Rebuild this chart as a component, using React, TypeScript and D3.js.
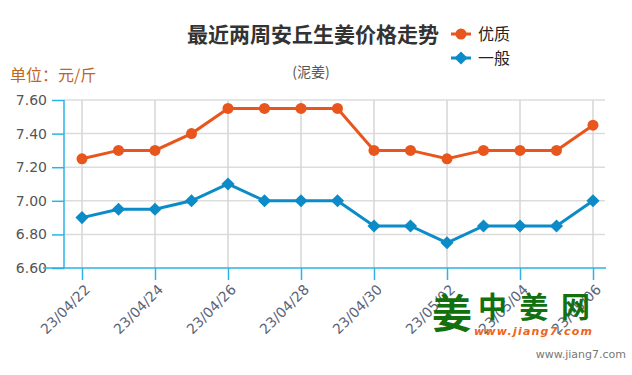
import * as d3 from "d3";
import { useEffect, useRef } from "react";

const dates = [
  "23/04/22", "23/04/23", "23/04/24", "23/04/25", "23/04/26", "23/04/27", "23/04/28",
  "23/04/29", "23/04/30", "23/05/01", "23/05/02", "23/05/03", "23/05/04", "23/05/05", "23/05/06",
];
const premium = [7.25, 7.3, 7.3, 7.4, 7.55, 7.55, 7.55, 7.55, 7.3, 7.3, 7.25, 7.3, 7.3, 7.3, 7.45];
const normal = [6.9, 6.95, 6.95, 7.0, 7.1, 7.0, 7.0, 7.0, 6.85, 6.85, 6.75, 6.85, 6.85, 6.85, 7.0];
const yTicks = [6.6, 6.8, 7.0, 7.2, 7.4, 7.6];
const seriesNames = ["优质", "一般"];

const ORANGE = "#e9561d";
const BLUE = "#0b8bc7";
const AXIS = "#2bb2e6";

export default function App() {
  const svgRef = useRef(null);

  useEffect(() => {
    const w = 632;
    const h = 375;
    const svg = d3.select(svgRef.current).attr("width", w).attr("height", h);
    svg.selectAll("*").remove();

    const x = d3.scalePoint().domain(dates).range([82, 593]);
    const y = d3.scaleLinear().domain([6.6, 7.6]).range([268, 100]);
    const font = "'Noto Sans CJK SC', 'Noto Sans', sans-serif";

    // grid
    svg
      .append("g")
      .selectAll("line")
      .data(yTicks.slice(1))
      .enter()
      .append("line")
      .attr("x1", 64)
      .attr("x2", 605)
      .attr("y1", (d) => y(d))
      .attr("y2", (d) => y(d))
      .attr("stroke", "#dcdcdc")
      .attr("stroke-width", 1.5);

    const tickDates = dates.filter((_, i) => i % 2 === 0);
    svg
      .append("g")
      .selectAll("line")
      .data(tickDates)
      .enter()
      .append("line")
      .attr("x1", (d) => x(d))
      .attr("x2", (d) => x(d))
      .attr("y1", 100)
      .attr("y2", 268)
      .attr("stroke", "#d6d6d6")
      .attr("stroke-width", 1.5);

    // y axis
    const yAxis = d3.axisLeft(y).tickValues(yTicks).tickSize(12).tickPadding(4).tickFormat(d3.format(".2f"));
    const gy = svg.append("g").attr("transform", "translate(64,0)").call(yAxis);
    gy.select(".domain").attr("stroke", AXIS).attr("stroke-width", 1.5).attr("d", "M0,100V268");
    gy.selectAll(".tick line").attr("stroke", AXIS).attr("stroke-width", 1.5);
    gy.selectAll(".tick text")
      .attr("fill", "#555")
      .style("font-size", "14px")
      .style("font-family", "'DejaVu Sans', sans-serif")
      .attr("x", -17);

    // x axis
    const xAxis = d3.axisBottom(x).tickValues(tickDates).tickSize(12).tickPadding(4);
    const gx = svg.append("g").attr("transform", "translate(0,268)").call(xAxis);
    gx.select(".domain").attr("stroke", AXIS).attr("stroke-width", 1.5).attr("d", "M43,0H606");
    gx.selectAll(".tick line").attr("stroke", AXIS).attr("stroke-width", 1.5);
    gx.selectAll(".tick text")
      .attr("fill", "#5a6478")
      .style("font-size", "14px")
      .style("font-family", "'DejaVu Sans', sans-serif")
      .attr("text-anchor", "end")
      .attr("dy", "0.35em")
      .attr("transform", "translate(5,19) rotate(-45)")
      .attr("x", 0)
      .attr("y", 0);

    // lines
    const line = d3
      .line<number>()
      .x((_, i) => x(dates[i]) as number)
      .y((d) => y(d));

    svg.append("path").attr("d", line(premium)).attr("fill", "none").attr("stroke", ORANGE).attr("stroke-width", 3);
    svg
      .append("g")
      .selectAll("circle")
      .data(premium)
      .enter()
      .append("circle")
      .attr("cx", (_, i) => x(dates[i]) as number)
      .attr("cy", (d) => y(d))
      .attr("r", 5.5)
      .attr("fill", ORANGE);

    svg.append("path").attr("d", line(normal)).attr("fill", "none").attr("stroke", BLUE).attr("stroke-width", 3);
    const diamond = d3.symbol().type(d3.symbolDiamond2).size(110);
    svg
      .append("g")
      .selectAll("path")
      .data(normal)
      .enter()
      .append("path")
      .attr("d", diamond)
      .attr("transform", (d, i) => `translate(${x(dates[i])},${y(d)})`)
      .attr("fill", BLUE);

    // titles
    svg
      .append("text")
      .attr("x", 313)
      .attr("y", 42)
      .attr("text-anchor", "middle")
      .style("font-family", font)
      .style("font-size", "21px")
      .style("font-weight", "bold")
      .attr("fill", "#333")
      .text("最近两周安丘生姜价格走势");
    svg
      .append("text")
      .attr("x", 311)
      .attr("y", 77)
      .attr("text-anchor", "middle")
      .style("font-family", font)
      .style("font-size", "14px")
      .attr("fill", "#555")
      .text("(泥姜)");
    svg
      .append("text")
      .attr("x", 10)
      .attr("y", 81)
      .style("font-family", font)
      .style("font-size", "16px")
      .attr("fill", "#c0651e")
      .text("单位：元/斤");

    // legend
    const colors = [ORANGE, BLUE];
    seriesNames.forEach((name, i) => {
      const ly = 34 + i * 24;
      const g = svg.append("g");
      g.append("line").attr("x1", 451).attr("x2", 471).attr("y1", ly).attr("y2", ly).attr("stroke", colors[i]).attr("stroke-width", 3);
      if (i === 0) g.append("circle").attr("cx", 461).attr("cy", ly).attr("r", 5.5).attr("fill", colors[i]);
      else g.append("path").attr("d", diamond).attr("transform", `translate(461,${ly})`).attr("fill", colors[i]);
      g.append("text")
        .attr("x", 478)
        .attr("y", ly + 6)
        .style("font-family", font)
        .style("font-size", "16px")
        .attr("fill", "#222")
        .text(name);
    });

    // watermark
    const wm = svg.append("g");
    wm.append("text")
      .attr("x", 452)
      .attr("y", 328)
      .attr("text-anchor", "middle")
      .style("font-family", font)
      .style("font-size", "40px")
      .style("font-weight", "bold")
      .attr("fill", "#12700f")
      .text("姜");
    wm.append("text")
      .attr("x", 478)
      .attr("y", 318)
      .style("font-family", font)
      .style("font-size", "29px")
      .style("font-weight", "bold")
      .attr("fill", "#12700f")
      .attr("textLength", 112)
      .text("中姜网");
    wm.append("text")
      .attr("x", 474)
      .attr("y", 335)
      .style("font-family", "'DejaVu Sans', sans-serif")
      .style("font-size", "11px")
      .style("font-weight", "bold")
      .style("font-style", "italic")
      .attr("fill", "#f06418")
      .attr("textLength", 118)
      .text("www.jiang7.com");
    svg
      .append("text")
      .attr("x", 626)
      .attr("y", 358)
      .attr("text-anchor", "end")
      .style("font-family", "'DejaVu Sans', sans-serif")
      .style("font-size", "11px")
      .attr("fill", "#777")
      .text("www.jiang7.com");
  }, []);

  return <svg ref={svgRef} style={{ position: "absolute", left: 0, top: 0 }}></svg>;
}
